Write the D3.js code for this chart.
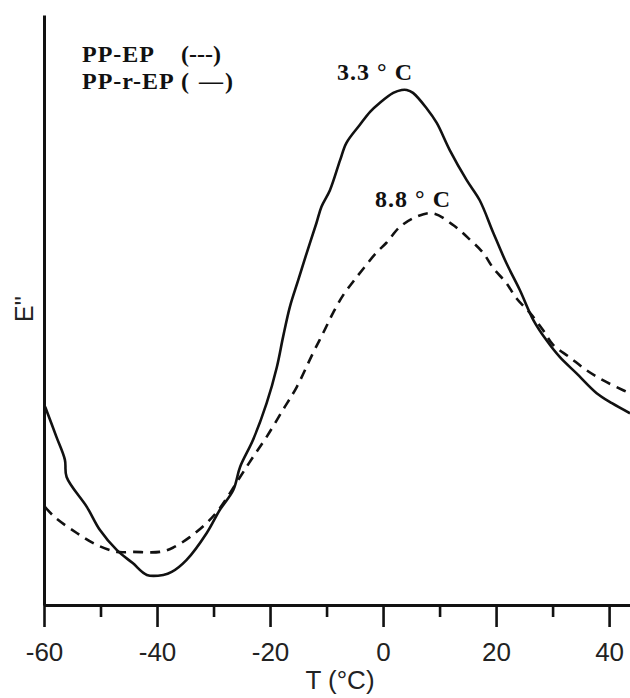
<!DOCTYPE html>
<html>
<head>
<meta charset="utf-8">
<script src="https://cdn.jsdelivr.net/npm/d3@7"></script>
<style>
  html, body { margin: 0; padding: 0; background: #fff; }
  svg { display: block; }
</style>
</head>
<body>
<svg id="chart" width="630" height="698"></svg>
<script>
// Temperature (°C) and loss modulus E'' (arbitrary units)
const tempSolid = [-59.8, -57.8, -56.3, -56.0, -52.4, -50.1, -47.1, -44.3, -41.8, -38.9, -37.4, -34.8, -31.2, -28.9, -26.5, -25.3, -23.0, -20.6, -18.8, -17.7, -16.5, -15.0, -13.5, -11.8, -10.9, -9.4, -7.6, -6.5, -4.1, -2.3, -0.6, 1.8, 3.3, 4.2, 5.3, 7.7, 9.5, 11.8, 14.8, 17.1, 19.5, 21.8, 24.2, 26.6, 28.9, 31.3, 34.2, 37.8, 40.5, 43.7];
const ppREP = [33.6, 28.5, 24.6, 21.7, 16.6, 12.7, 9.3, 7.1, 5.1, 5.1, 5.6, 7.6, 12.2, 16.1, 19.5, 23.4, 28.0, 34.2, 40.3, 45.4, 50.5, 55.1, 59.7, 64.7, 67.5, 70.3, 75.4, 78.3, 81.4, 83.6, 85.1, 86.8, 87.3, 87.3, 86.8, 84.2, 81.7, 77.1, 72.0, 68.6, 63.1, 58.0, 53.4, 48.3, 44.9, 42.0, 39.3, 35.9, 34.2, 32.5];

const tempDashed = [-59.8, -58.1, -54.2, -50.7, -47.1, -44.3, -39.5, -37.2, -34.2, -31.2, -28.9, -25.3, -23.0, -20.6, -17.7, -15.3, -12.4, -10.6, -8.8, -7.0, -5.3, -3.5, -1.2, 0.6, 3.0, 5.9, 8.8, 12.4, 15.4, 17.7, 19.5, 21.8, 23.6, 26.0, 28.3, 30.1, 33.0, 36.0, 38.9, 42.5, 43.7];
const ppEP = [16.6, 14.9, 12.2, 10.2, 9.0, 9.0, 9.0, 9.7, 11.5, 13.9, 16.4, 21.7, 25.1, 28.5, 33.1, 36.9, 42.7, 46.1, 49.6, 52.6, 54.8, 57.0, 59.7, 61.4, 64.1, 65.8, 66.4, 64.4, 61.9, 59.7, 57.1, 54.6, 52.0, 49.5, 46.6, 44.1, 42.0, 39.8, 38.1, 36.4, 35.9];

const majorTicks = [-60, -40, -20, 0, 20, 40];
const minorTicks = [-50, -30, -10, 10, 30];
const legendNames = ["PP-EP", "PP-r-EP"];
const legendMarks = ["(---)", "( \u2014)"];
const peakLabels = ["3.3 \u00b0 C", "8.8 \u00b0 C"];

const svg = d3.select("#chart");
const x = d3.scaleLinear().domain([-60, 43.7]).range([44, 630]);
const y = d3.scaleLinear().domain([0, 100]).range([605, 15]);

svg.append("defs").append("clipPath").attr("id", "clip")
  .append("rect").attr("x", 44).attr("y", 0).attr("width", 586).attr("height", 605);

const line = d3.line().x(d => x(d[0])).y(d => y(d[1])).curve(d3.curveCatmullRom.alpha(0.5));

const g = svg.append("g").attr("clip-path", "url(#clip)");
g.append("path")
  .datum(tempDashed.map((t, i) => [t, ppEP[i]]))
  .attr("d", line)
  .attr("fill", "none").attr("stroke", "#111").attr("stroke-width", 2.6)
  .attr("stroke-dasharray", "10,7");
g.append("path")
  .datum(tempSolid.map((t, i) => [t, ppREP[i]]))
  .attr("d", line)
  .attr("fill", "none").attr("stroke", "#111").attr("stroke-width", 2.6);

// Minor ticks
svg.append("g").attr("transform", "translate(0,605)")
  .call(d3.axisBottom(x).tickValues(minorTicks).tickSize(12).tickFormat(""))
  .call(a => a.select(".domain").remove())
  .call(a => a.selectAll("line").attr("stroke", "#111").attr("stroke-width", 2.6));

// Major ticks + labels
svg.append("g").attr("transform", "translate(0,605)")
  .call(d3.axisBottom(x).tickValues(majorTicks).tickSize(22).tickPadding(16).tickSizeOuter(0).tickFormat(d => String(d)))
  .call(a => a.select(".domain").attr("stroke", "#111").attr("stroke-width", 3))
  .call(a => a.selectAll("line").attr("stroke", "#111").attr("stroke-width", 2.6))
  .call(a => a.selectAll("text").attr("fill", "#222")
    .style("font-family", "'Liberation Sans', Arial, sans-serif").style("font-size", "26px"));

// Left axis (no ticks)
svg.append("g").attr("transform", "translate(44,0)")
  .call(d3.axisLeft(y).tickValues([]).tickSizeOuter(0))
  .call(a => a.select(".domain").attr("stroke", "#111").attr("stroke-width", 3));

// Axis titles
svg.append("text").attr("x", 340).attr("y", 689).attr("text-anchor", "middle")
  .style("font-family", "'Liberation Sans', Arial, sans-serif").style("font-size", "26px").attr("fill", "#222")
  .text("T (\u00b0C)");
svg.append("text").attr("transform", "translate(33,309) rotate(-90)").attr("text-anchor", "middle")
  .style("font-family", "'Liberation Sans', Arial, sans-serif").style("font-size", "25px").attr("fill", "#222")
  .text("E''");

// Legend
const serif = "'Liberation Serif', 'Times New Roman', serif";
legendNames.forEach((n, i) => {
  svg.append("text").attr("x", 82).attr("y", 62 + i * 27)
    .style("font-family", serif).style("font-weight", "bold").style("font-size", "24px")
    .style("letter-spacing", "1px").attr("fill", "#111")
    .text(n);
  svg.append("text").attr("x", 181).attr("y", 62 + i * 27)
    .style("font-family", serif).style("font-weight", "bold").style("font-size", "24px")
    .style("letter-spacing", i === 0 ? "0px" : "2px").attr("fill", "#111")
    .text(legendMarks[i]);
});

// Peak labels
const peakPos = [{x: 413, y: 80}, {x: 451, y: 207}];
peakLabels.forEach((p, i) => {
  svg.append("text").attr("x", peakPos[i].x).attr("y", peakPos[i].y).attr("text-anchor", "end")
    .style("font-family", serif).style("font-weight", "bold").style("font-size", "24px")
    .style("letter-spacing", "1px").attr("fill", "#111")
    .text(p);
});
</script>
</body>
</html>
